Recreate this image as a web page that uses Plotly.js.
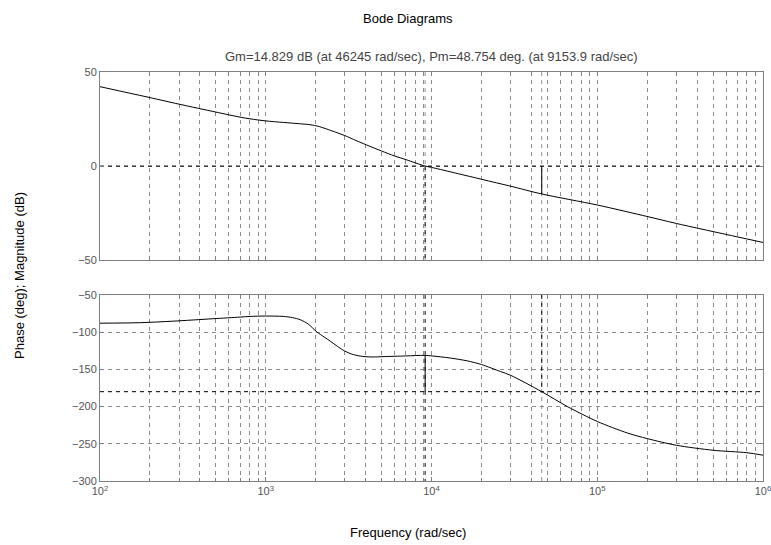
<!DOCTYPE html>
<html>
<head>
<meta charset="utf-8">
<script src="https://cdn.plot.ly/plotly-3.0.1.min.js"></script>
<style>html,body{margin:0;padding:0;background:#fff;}#chart{width:771px;height:545px;}</style>
</head>
<body>
<div id="chart"></div>
<script>
// Magnitude response (rad/sec, dB)
const magFreq = [100, 150, 200, 300, 500, 700, 805, 1000, 1276, 1600, 1850, 2100, 2400, 2700, 3000, 3500, 4040, 5000, 5970, 7030, 9154, 10000, 20000, 30000, 46245, 100000, 200000, 300000, 1000000];
const magDb   = [42.2, 38.8, 36.4, 32.9, 28.7, 26.0, 25.1, 24.0, 23.2, 22.5, 22.0, 21.0, 19.3, 17.7, 16.2, 13.6, 11.3, 8.0, 5.4, 3.4, 0.0, -0.7, -7.0, -10.7, -14.83, -20.7, -26.8, -30.5, -40.6];
// Phase response (rad/sec, deg)
const phaseFreq = [100, 175, 275, 480, 700, 805, 1000, 1275, 1450, 1620, 1800, 2040, 2250, 2460, 2700, 2990, 3300, 3720, 4370, 5100, 7000, 9154, 11300, 13000, 16400, 20000, 26100, 30000, 46245, 66000, 100000, 152000, 200000, 300000, 500000, 800000, 1000000];
const phaseDeg  = [-88, -87.3, -85.3, -82, -79.8, -78.9, -78.4, -78.9, -80.5, -83.5, -89, -100, -106.5, -112.4, -119, -125.3, -129.5, -132.2, -133.4, -132.9, -132, -131.25, -133.2, -134.8, -138.6, -143.5, -153, -158, -180, -200, -220, -235.5, -243, -252, -258.7, -262, -265.3];
// Margins
const gmDb = 14.829, wcg = 46245;
const pmDeg = 48.754, wcp = 9153.9;
const magRange = [-50, 50], phaseRange = [-300, -50];
const freqRange = [100, 1000000];
// Ticks
const decadeVals = [100, 1000, 10000, 100000, 1000000];
const decadeText = ['10<sup>2</sup>', '10<sup>3</sup>', '10<sup>4</sup>', '10<sup>5</sup>', '10<sup>6</sup>'];
const minorVals = [];
[100, 1000, 10000, 100000].forEach(function (d) {
  for (let k = 2; k <= 9; k++) minorVals.push(d * k);
});
const magTicks = [-50, 0, 50];
const phaseTicks = [-300, -250, -200, -150, -100, -50];

const gridGray = '#8c8c8c';
const dash = '4px,4px';

function vline(xv, y0, y1, ya, color, d) {
  return {x: [xv, xv], y: [y0, y1], xaxis: ya === 'y2' ? 'x2' : 'x', yaxis: ya, mode: 'lines',
    line: {color: color, width: 1, dash: d}, hoverinfo: 'skip', showlegend: false};
}
function hline(y, ya, color) {
  return {x: freqRange, y: [y, y], xaxis: ya === 'y2' ? 'x2' : 'x', yaxis: ya, mode: 'lines',
    line: {color: color, width: 1, dash: dash}, hoverinfo: 'skip', showlegend: false};
}

const traces = [
  vline(wcg, magRange[0], magRange[1], 'y2', gridGray, dash),
  vline(wcp, magRange[0], magRange[1], 'y2', gridGray, dash),
  vline(wcg, phaseRange[0], phaseRange[1], 'y', gridGray, dash),
  hline(0, 'y2', '#000'),
  hline(-180, 'y', '#000'),
  vline(wcp, 0, magRange[0], 'y2', '#000', dash),
  vline(wcg, phaseRange[1], -180, 'y', '#000', dash),
  vline(wcp, phaseRange[1], phaseRange[0], 'y', '#000', dash),
  vline(wcg, 0, -gmDb, 'y2', '#000', 'solid'),
  vline(wcp, -180, -180 + pmDeg, 'y', '#000', 'solid'),
  {x: magFreq, y: magDb, xaxis: 'x2', yaxis: 'y2', mode: 'lines',
   line: {color: '#000', width: 1, shape: 'spline', smoothing: 0.8}, showlegend: false},
  {x: phaseFreq, y: phaseDeg, xaxis: 'x', yaxis: 'y', mode: 'lines',
   line: {color: '#000', width: 1, shape: 'spline', smoothing: 0.8}, showlegend: false}
];

const axisFont = {family: 'Liberation Sans, Arial, sans-serif', size: 11, color: '#555'};
const xRangeLog = [2, 6];
const xBase = {
  type: 'log', range: xRangeLog, tickmode: 'array', tickvals: decadeVals, ticktext: decadeText,
  ticklabeloverflow: 'allow',
  ticks: 'inside', ticklen: 4, tickcolor: '#808080', showline: true, linecolor: '#808080', linewidth: 1,
  mirror: 'ticks', showgrid: true, gridcolor: gridGray, griddash: dash, gridwidth: 1,
  zeroline: false, tickfont: axisFont, fixedrange: true,
  minor: {tickmode: 'array', tickvals: minorVals, ticks: 'inside', ticklen: 3, tickcolor: '#808080',
          showgrid: true, gridcolor: gridGray, griddash: dash, gridwidth: 1}
};
const yBase = {
  ticks: 'inside', ticklen: 4, tickcolor: '#808080', showline: true, linecolor: '#808080', linewidth: 1,
  mirror: 'ticks', showgrid: true, gridcolor: gridGray, griddash: dash, gridwidth: 1,
  zeroline: false, tickfont: axisFont, tickmode: 'array', fixedrange: true
};

const titleSize = 13;
const layout = {
  width: 771, height: 545,
  margin: {l: 100, r: 8, t: 72, b: 64},
  paper_bgcolor: '#fff', plot_bgcolor: '#fff',
  showlegend: false,
  font: {family: 'Liberation Sans, Arial, sans-serif', size: 11, color: '#000'},
  xaxis: Object.assign({}, xBase, {anchor: 'y'}),
  xaxis2: Object.assign({}, xBase, {anchor: 'y2', showticklabels: false}),
  yaxis: Object.assign({}, yBase, {domain: [0, 0.455], range: phaseRange, tickvals: phaseTicks, anchor: 'x'}),
  yaxis2: Object.assign({}, yBase, {domain: [0.540, 1], range: magRange, tickvals: magTicks, anchor: 'x2'}),
  annotations: [
    {text: 'Bode Diagrams', xref: 'paper', yref: 'paper', x: 0.4646, y: 1.1296, xanchor: 'center', yanchor: 'middle',
     showarrow: false, font: {size: titleSize, color: '#000'}},
    {text: 'Gm=14.829 dB (at 46245 rad/sec), Pm=48.754 deg. (at 9153.9 rad/sec)', xref: 'paper', yref: 'paper',
     x: 0.5, y: 1.0367, xanchor: 'center', yanchor: 'middle', showarrow: false, font: {size: titleSize, color: '#444'}},
    {text: 'Frequency (rad/sec)', xref: 'paper', yref: 'paper', x: 0.4646, y: -0.1247, xanchor: 'center', yanchor: 'middle',
     showarrow: false, font: {size: titleSize, color: '#000'}},
    {text: 'Phase (deg); Magnitude (dB)', xref: 'paper', yref: 'paper', x: -0.1207, y: 0.5037, xanchor: 'center', yanchor: 'middle',
     textangle: -90, showarrow: false, font: {size: titleSize, color: '#000'}}
  ]
};

Plotly.newPlot('chart', traces, layout, {displayModeBar: false, staticPlot: true});
</script>
</body>
</html>
